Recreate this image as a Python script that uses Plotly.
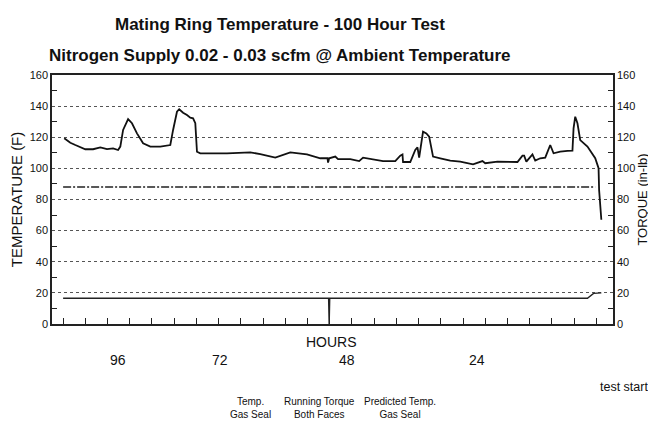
import plotly.graph_objects as go

# ---- data ----
temp_hours = [99.8, 98.7, 97.8, 96.0, 94.6, 93.3, 92.1, 91.0, 90.1, 89.7, 89.2, 88.5, 88.3, 87.6,
              86.7, 85.6, 84.3, 82.5, 80.7, 80.2, 79.5, 79.1, 78.4, 77.7, 77.1, 76.6, 76.2, 75.9,
              75.3, 70.5, 66.3, 64.5, 61.8, 59.1, 56.1, 53.7, 52.4, 52.3, 52.1, 51.0, 50.5, 48.3,
              46.7, 46.0, 44.2, 42.4, 40.2, 39.3, 38.9, 38.8, 37.5, 36.6, 36.2, 35.9, 35.2, 34.6,
              34.1, 33.4, 32.1, 30.3, 28.5, 26.2, 24.5, 24.0, 21.8, 18.2, 17.3, 17.0, 16.6, 15.9,
              15.5, 15.0, 14.1, 13.2, 12.3, 11.7, 10.5, 9.2, 8.3, 8.1, 7.8, 7.4, 6.9, 5.6, 4.7,
              4.2, 3.6, 3.5, 3.1]
temp_values = [119.3, 116.5, 115.0, 112.3, 112.3, 113.5, 112.4, 112.9, 111.8, 114.0, 124.7, 131.1,
               131.7, 129.0, 122.5, 116.1, 114.0, 114.0, 115.0, 124.7, 136.4, 138.0, 135.8, 134.3,
               132.6, 132.2, 129.0, 110.7, 109.7, 109.7, 110.3, 109.2, 106.9, 110.3, 109.0, 106.5,
               106.5, 103.7, 106.5, 107.6, 105.9, 105.9, 104.7, 106.9, 106.0, 104.7, 104.7, 108.2,
               109.0, 104.1, 104.1, 111.8, 113.5, 106.9, 123.6, 122.5, 120.4, 107.6, 106.5, 105.0,
               104.3, 102.6, 104.7, 103.3, 104.3, 104.1, 108.2, 108.2, 104.3, 107.6, 109.0, 105.0,
               106.5, 106.9, 115.0, 109.7, 110.7, 111.2, 111.4, 125.7, 133.2, 129.0, 118.2, 114.0,
               108.6, 106.5, 100.1, 86.1, 67.0]

torque_hours = [100.0, 52.2, 52.1, 52.0, 5.6, 4.5, 3.1]
torque_values = [16.5, 16.5, 0.0, 16.5, 16.5, 19.7, 20.0]

predicted_hours = [100.0, 4.2]
predicted_values = [88.0, 88.0]

series_names = ["Temp.<br>Gas Seal", "Running Torque<br>Both Faces", "Predicted Temp.<br>Gas Seal"]
hour_labels = ["96", "72", "48", "24", "test start"]

title_lines = ["Mating Ring Temperature - 100 Hour Test",
               "Nitrogen Supply 0.02 - 0.03 scfm @ Ambient Temperature"]

# ---- figure ----
fig = go.Figure()
fig.add_trace(go.Scatter(x=temp_hours, y=temp_values, mode="lines", name=series_names[0],
                         line=dict(color="#111", width=1.8), yaxis="y"))
fig.add_trace(go.Scatter(x=torque_hours, y=torque_values, mode="lines", name=series_names[1],
                         line=dict(color="#222", width=1.4), yaxis="y2"))
fig.add_trace(go.Scatter(x=predicted_hours, y=predicted_values, mode="lines", name=series_names[2],
                         line=dict(color="#222", width=1.4, dash="8px,2px,2px,2px"), yaxis="y"))

sans = "Liberation Sans, Arial, sans-serif"
axis_font = dict(family=sans, size=11, color="#111")

fig.update_layout(
    template="none",
    width=648, height=416,
    margin=dict(l=44, r=43, t=67, b=100, autoexpand=False),
    paper_bgcolor="white", plot_bgcolor="white",
    showlegend=False,
    xaxis=dict(range=[102, 1], tick0=0, dtick=4, ticks="inside", ticklen=6, tickcolor="#222",
               showticklabels=False, showgrid=False, zeroline=False, automargin=False,
               showline=True, linecolor="#222", linewidth=1.5, mirror=True),
    yaxis=dict(range=[0, 160], dtick=20, ticks="", tickfont=axis_font, automargin=False,
               showgrid=True, gridcolor="#555", gridwidth=1, griddash="dot",
               zeroline=False, showline=True, linecolor="#222", linewidth=1.5,
               minor=dict(ticks="inside", ticklen=5, dtick=10, tickcolor="#222", showgrid=False),
               title=dict(text="TEMPERATURE (F)", font=dict(family=sans, size=15, color="#111"),
                          standoff=12)),
    yaxis2=dict(range=[0, 160], dtick=20, ticks="", tickfont=axis_font, overlaying="y", side="right",
                automargin=False,
                showgrid=False, zeroline=False, showline=True, linecolor="#222", linewidth=1.5,
                minor=dict(ticks="inside", ticklen=5, dtick=10, tickcolor="#222", showgrid=False),
                title=dict(text="TORQUE (in-lb)", font=dict(family=sans, size=13, color="#111"),
                           standoff=3)),
)

ann = []
# title
for txt, yp in zip(title_lines, [1.2048, 1.0803]):
    ann.append(dict(text=txt, x=0.4064, y=yp, xref="paper", yref="paper", xanchor="center",
                    yanchor="middle", showarrow=False,
                    font=dict(family=sans, size=17, color="#111", weight="bold")))
# x axis title
ann.append(dict(text="HOURS", x=0.499, y=-0.0723, xref="paper", yref="paper", showarrow=False,
                xanchor="center", yanchor="middle", font=dict(family=sans, size=14, color="#111")))
# hour labels
label_x = [0.1176, 0.2995, 0.526, 0.7576, 1.0196]
label_y = [-0.1446, -0.1446, -0.1446, -0.1446, -0.253]
for t, xp, yp in zip(hour_labels, label_x, label_y):
    ann.append(dict(text=t, x=xp, y=yp, xref="paper", yref="paper", showarrow=False,
                    xanchor="center", yanchor="middle",
                    font=dict(family=sans, size=14 if t != "test start" else 12.5, color="#111")))
# legend labels
for t, xp in zip(series_names, [0.3547, 0.476, 0.620]):
    ann.append(dict(text=t, x=xp, y=-0.339, xref="paper", yref="paper", showarrow=False,
                    xanchor="center", yanchor="middle", align="center",
                    font=dict(family=sans, size=10, color="#111")))
fig.update_layout(annotations=ann)

fig.write_html("out.html")
